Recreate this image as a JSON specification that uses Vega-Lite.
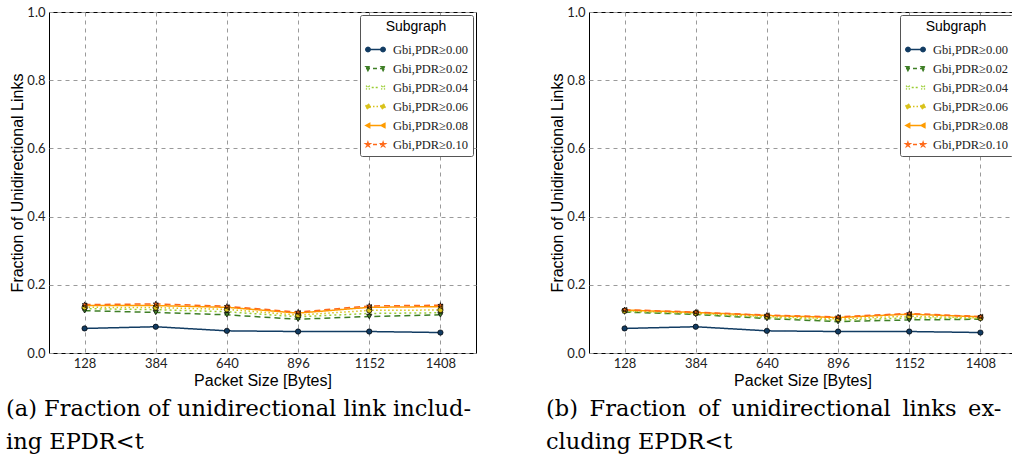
{
  "$schema": "https://vega.github.io/schema/vega-lite/v6.json",
  "autosize": {"type": "pad"},
  "padding": {"left": 5, "top": 5, "right": 0, "bottom": 5},
  "background": "white",
  "datasets": {
    "incl": [
      {"size": 128, "subgraph": "Gbi,PDR≥0.00", "fraction": 0.072},
      {"size": 384, "subgraph": "Gbi,PDR≥0.00", "fraction": 0.077},
      {"size": 640, "subgraph": "Gbi,PDR≥0.00", "fraction": 0.065},
      {"size": 896, "subgraph": "Gbi,PDR≥0.00", "fraction": 0.063},
      {"size": 1152, "subgraph": "Gbi,PDR≥0.00", "fraction": 0.063},
      {"size": 1408, "subgraph": "Gbi,PDR≥0.00", "fraction": 0.060},
      {"size": 128, "subgraph": "Gbi,PDR≥0.02", "fraction": 0.124},
      {"size": 384, "subgraph": "Gbi,PDR≥0.02", "fraction": 0.119},
      {"size": 640, "subgraph": "Gbi,PDR≥0.02", "fraction": 0.112},
      {"size": 896, "subgraph": "Gbi,PDR≥0.02", "fraction": 0.099},
      {"size": 1152, "subgraph": "Gbi,PDR≥0.02", "fraction": 0.107},
      {"size": 1408, "subgraph": "Gbi,PDR≥0.02", "fraction": 0.112},
      {"size": 128, "subgraph": "Gbi,PDR≥0.04", "fraction": 0.130},
      {"size": 384, "subgraph": "Gbi,PDR≥0.04", "fraction": 0.127},
      {"size": 640, "subgraph": "Gbi,PDR≥0.04", "fraction": 0.121},
      {"size": 896, "subgraph": "Gbi,PDR≥0.04", "fraction": 0.106},
      {"size": 1152, "subgraph": "Gbi,PDR≥0.04", "fraction": 0.116},
      {"size": 1408, "subgraph": "Gbi,PDR≥0.04", "fraction": 0.118},
      {"size": 128, "subgraph": "Gbi,PDR≥0.06", "fraction": 0.134},
      {"size": 384, "subgraph": "Gbi,PDR≥0.06", "fraction": 0.133},
      {"size": 640, "subgraph": "Gbi,PDR≥0.06", "fraction": 0.128},
      {"size": 896, "subgraph": "Gbi,PDR≥0.06", "fraction": 0.111},
      {"size": 1152, "subgraph": "Gbi,PDR≥0.06", "fraction": 0.125},
      {"size": 1408, "subgraph": "Gbi,PDR≥0.06", "fraction": 0.126},
      {"size": 128, "subgraph": "Gbi,PDR≥0.08", "fraction": 0.139},
      {"size": 384, "subgraph": "Gbi,PDR≥0.08", "fraction": 0.139},
      {"size": 640, "subgraph": "Gbi,PDR≥0.08", "fraction": 0.134},
      {"size": 896, "subgraph": "Gbi,PDR≥0.08", "fraction": 0.117},
      {"size": 1152, "subgraph": "Gbi,PDR≥0.08", "fraction": 0.134},
      {"size": 1408, "subgraph": "Gbi,PDR≥0.08", "fraction": 0.136},
      {"size": 128, "subgraph": "Gbi,PDR≥0.10", "fraction": 0.142},
      {"size": 384, "subgraph": "Gbi,PDR≥0.10", "fraction": 0.144},
      {"size": 640, "subgraph": "Gbi,PDR≥0.10", "fraction": 0.137},
      {"size": 896, "subgraph": "Gbi,PDR≥0.10", "fraction": 0.120},
      {"size": 1152, "subgraph": "Gbi,PDR≥0.10", "fraction": 0.138},
      {"size": 1408, "subgraph": "Gbi,PDR≥0.10", "fraction": 0.140}
    ],
    "excl": [
      {"size": 128, "subgraph": "Gbi,PDR≥0.00", "fraction": 0.072},
      {"size": 384, "subgraph": "Gbi,PDR≥0.00", "fraction": 0.077},
      {"size": 640, "subgraph": "Gbi,PDR≥0.00", "fraction": 0.065},
      {"size": 896, "subgraph": "Gbi,PDR≥0.00", "fraction": 0.063},
      {"size": 1152, "subgraph": "Gbi,PDR≥0.00", "fraction": 0.063},
      {"size": 1408, "subgraph": "Gbi,PDR≥0.00", "fraction": 0.060},
      {"size": 128, "subgraph": "Gbi,PDR≥0.02", "fraction": 0.120},
      {"size": 384, "subgraph": "Gbi,PDR≥0.02", "fraction": 0.113},
      {"size": 640, "subgraph": "Gbi,PDR≥0.02", "fraction": 0.101},
      {"size": 896, "subgraph": "Gbi,PDR≥0.02", "fraction": 0.092},
      {"size": 1152, "subgraph": "Gbi,PDR≥0.02", "fraction": 0.097},
      {"size": 1408, "subgraph": "Gbi,PDR≥0.02", "fraction": 0.099},
      {"size": 128, "subgraph": "Gbi,PDR≥0.04", "fraction": 0.122},
      {"size": 384, "subgraph": "Gbi,PDR≥0.04", "fraction": 0.115},
      {"size": 640, "subgraph": "Gbi,PDR≥0.04", "fraction": 0.104},
      {"size": 896, "subgraph": "Gbi,PDR≥0.04", "fraction": 0.096},
      {"size": 1152, "subgraph": "Gbi,PDR≥0.04", "fraction": 0.103},
      {"size": 1408, "subgraph": "Gbi,PDR≥0.04", "fraction": 0.101},
      {"size": 128, "subgraph": "Gbi,PDR≥0.06", "fraction": 0.124},
      {"size": 384, "subgraph": "Gbi,PDR≥0.06", "fraction": 0.117},
      {"size": 640, "subgraph": "Gbi,PDR≥0.06", "fraction": 0.107},
      {"size": 896, "subgraph": "Gbi,PDR≥0.06", "fraction": 0.100},
      {"size": 1152, "subgraph": "Gbi,PDR≥0.06", "fraction": 0.108},
      {"size": 1408, "subgraph": "Gbi,PDR≥0.06", "fraction": 0.103},
      {"size": 128, "subgraph": "Gbi,PDR≥0.08", "fraction": 0.126},
      {"size": 384, "subgraph": "Gbi,PDR≥0.08", "fraction": 0.119},
      {"size": 640, "subgraph": "Gbi,PDR≥0.08", "fraction": 0.110},
      {"size": 896, "subgraph": "Gbi,PDR≥0.08", "fraction": 0.104},
      {"size": 1152, "subgraph": "Gbi,PDR≥0.08", "fraction": 0.114},
      {"size": 1408, "subgraph": "Gbi,PDR≥0.08", "fraction": 0.106},
      {"size": 128, "subgraph": "Gbi,PDR≥0.10", "fraction": 0.127},
      {"size": 384, "subgraph": "Gbi,PDR≥0.10", "fraction": 0.120},
      {"size": 640, "subgraph": "Gbi,PDR≥0.10", "fraction": 0.111},
      {"size": 896, "subgraph": "Gbi,PDR≥0.10", "fraction": 0.106},
      {"size": 1152, "subgraph": "Gbi,PDR≥0.10", "fraction": 0.116},
      {"size": 1408, "subgraph": "Gbi,PDR≥0.10", "fraction": 0.107}
    ]
  },
  "spacing": 113,
  "bounds": "flush",
  "hconcat": [
    {
      "width": 427,
      "height": 341,
      "data": {"name": "incl"},
      "title": {
        "text": ["(a) Fraction of unidirectional link includ-", "ing EPDR<t"],
        "orient": "bottom", "anchor": "start", "frame": "group", "align": "left",
        "dx": -43, "offset": 10
      },
      "encoding": {
        "x": {"field": "size", "type": "quantitative", "scale": {"domain": [0, 1536], "nice": false},
              "axis": {"values": [128, 384, 640, 896, 1152, 1408], "format": "d", "title": "Packet Size [Bytes]"}},
        "y": {"field": "fraction", "type": "quantitative", "scale": {"domain": [0, 1], "nice": false},
              "axis": {"values": [0, 0.2, 0.4, 0.6, 0.8, 1.0], "format": ".1f", "title": "Fraction of Unidirectional Links"}},
        "color": {"field": "subgraph", "type": "nominal", "title": "Subgraph",
                  "scale": {"range": ["#123c63", "#3f7f26", "#9acd32", "#d9c21a", "#ff9c00", "#ff6a1a"]},
                  "legend": {
                    "encode": {
                      "symbols": {
                        "update": {
                          "shape": {"signal": "['M-1,0L1,0M-0.55,0A0.24,0.24 0 1,1 -1.03,0A0.24,0.24 0 1,1 -0.55,0ZM1.03,0A0.24,0.24 0 1,1 0.55,0A0.24,0.24 0 1,1 1.03,0Z', 'M-1,0L1,0M-1.04,-0.2L-0.56,-0.2L-0.8,0.24ZM0.56,-0.2L1.04,-0.2L0.8,0.24Z', 'M-0.4,0L0.4,0M-1,-0.2L-0.6,0.2M-0.6,-0.2L-1,0.2M0.6,-0.2L1,0.2M1,-0.2L0.6,0.2', 'M-1,0L1,0M-0.55,0A0.24,0.24 0 1,1 -1.03,0A0.24,0.24 0 1,1 -0.55,0ZM1.03,0A0.24,0.24 0 1,1 0.55,0A0.24,0.24 0 1,1 1.03,0Z', 'M-1,0L1,0M-1.04,0L-0.6,-0.24L-0.6,0.24ZM0.56,0L1.0,-0.24L1.0,0.24Z', 'M-1,0L1,0M-0.8,-0.26L-0.742,-0.08L-0.553,-0.08L-0.706,0.03L-0.647,0.21L-0.8,0.1L-0.953,0.21L-0.894,0.03L-1.047,-0.08L-0.858,-0.08ZM0.8,-0.26L0.858,-0.08L1.047,-0.08L0.894,0.03L0.953,0.21L0.8,0.1L0.647,0.21L0.706,0.03L0.553,-0.08L0.742,-0.08Z'][indexof(['Gbi,PDR≥0.00','Gbi,PDR≥0.02','Gbi,PDR≥0.04','Gbi,PDR≥0.06','Gbi,PDR≥0.08','Gbi,PDR≥0.10'], datum.value)]"},
                          "stroke": {"signal": "['#123c63','#3f7f26','#9acd32','#e0cf40','#ff9c00','#ff6a1a'][indexof(['Gbi,PDR≥0.00','Gbi,PDR≥0.02','Gbi,PDR≥0.04','Gbi,PDR≥0.06','Gbi,PDR≥0.08','Gbi,PDR≥0.10'], datum.value)]"},
                          "fill": {"signal": "['#123c63','#3f7f26','#9acd32','#c9b010','#222','#222'][indexof(['Gbi,PDR≥0.00','Gbi,PDR≥0.02','Gbi,PDR≥0.04','Gbi,PDR≥0.06','Gbi,PDR≥0.08','Gbi,PDR≥0.10'], datum.value)]"},
                          "strokeDash": {"signal": "[[1,0],[4,3],[2,2],[1.5,2],[1,0],[4,3]][indexof(['Gbi,PDR≥0.00','Gbi,PDR≥0.02','Gbi,PDR≥0.04','Gbi,PDR≥0.06','Gbi,PDR≥0.08','Gbi,PDR≥0.10'], datum.value)]"},
                          "strokeWidth": {"value": 1.3},
                          "opacity": {"value": 1}
                        }
                      }
                    }
                  }}
      },
      "layer": [
        {"mark": {"type": "line", "strokeWidth": 1.5},
         "encoding": {"strokeDash": {"field": "subgraph", "type": "nominal", "legend": null,
           "scale": {"range": [[1, 0], [6, 4], [2, 3], [1.5, 2.5], [1, 0], [6, 4]]}}}},
        {"mark": {"type": "point", "filled": true, "size": 28, "stroke": "black", "strokeWidth": 0.7, "opacity": 1},
         "encoding": {"shape": {"field": "subgraph", "type": "nominal", "legend": null,
           "scale": {"range": ["circle", "triangle-down", "M-0.7,-0.7L0.7,0.7M0.7,-0.7L-0.7,0.7", "circle", "triangle-left",
             "M0,-1L0.2245,-0.309L0.951,-0.309L0.363,0.118L0.588,0.809L0,0.382L-0.588,0.809L-0.363,0.118L-0.951,-0.309L-0.2245,-0.309Z"]}}}}
      ]
    },
    {
      "width": 427,
      "height": 341,
      "data": {"name": "excl"},
      "title": {
        "text": ["(b)\u2009 Fraction\u2009 of\u2009 unidirectional\u2009 links\u2009 ex-", "cluding EPDR<t"],
        "orient": "bottom", "anchor": "start", "frame": "group", "align": "left",
        "dx": -43, "offset": 10
      },
      "encoding": {
        "x": {"field": "size", "type": "quantitative", "scale": {"domain": [0, 1536], "nice": false},
              "axis": {"values": [128, 384, 640, 896, 1152, 1408], "format": "d", "title": "Packet Size [Bytes]"}},
        "y": {"field": "fraction", "type": "quantitative", "scale": {"domain": [0, 1], "nice": false},
              "axis": {"values": [0, 0.2, 0.4, 0.6, 0.8, 1.0], "format": ".1f", "title": "Fraction of Unidirectional Links"}},
        "color": {"field": "subgraph", "type": "nominal", "title": "Subgraph",
                  "scale": {"range": ["#123c63", "#3f7f26", "#9acd32", "#d9c21a", "#ff9c00", "#ff6a1a"]},
                  "legend": {
                    "encode": {
                      "symbols": {
                        "update": {
                          "shape": {"signal": "['M-1,0L1,0M-0.55,0A0.24,0.24 0 1,1 -1.03,0A0.24,0.24 0 1,1 -0.55,0ZM1.03,0A0.24,0.24 0 1,1 0.55,0A0.24,0.24 0 1,1 1.03,0Z', 'M-1,0L1,0M-1.04,-0.2L-0.56,-0.2L-0.8,0.24ZM0.56,-0.2L1.04,-0.2L0.8,0.24Z', 'M-0.4,0L0.4,0M-1,-0.2L-0.6,0.2M-0.6,-0.2L-1,0.2M0.6,-0.2L1,0.2M1,-0.2L0.6,0.2', 'M-1,0L1,0M-0.55,0A0.24,0.24 0 1,1 -1.03,0A0.24,0.24 0 1,1 -0.55,0ZM1.03,0A0.24,0.24 0 1,1 0.55,0A0.24,0.24 0 1,1 1.03,0Z', 'M-1,0L1,0M-1.04,0L-0.6,-0.24L-0.6,0.24ZM0.56,0L1.0,-0.24L1.0,0.24Z', 'M-1,0L1,0M-0.8,-0.26L-0.742,-0.08L-0.553,-0.08L-0.706,0.03L-0.647,0.21L-0.8,0.1L-0.953,0.21L-0.894,0.03L-1.047,-0.08L-0.858,-0.08ZM0.8,-0.26L0.858,-0.08L1.047,-0.08L0.894,0.03L0.953,0.21L0.8,0.1L0.647,0.21L0.706,0.03L0.553,-0.08L0.742,-0.08Z'][indexof(['Gbi,PDR≥0.00','Gbi,PDR≥0.02','Gbi,PDR≥0.04','Gbi,PDR≥0.06','Gbi,PDR≥0.08','Gbi,PDR≥0.10'], datum.value)]"},
                          "stroke": {"signal": "['#123c63','#3f7f26','#9acd32','#e0cf40','#ff9c00','#ff6a1a'][indexof(['Gbi,PDR≥0.00','Gbi,PDR≥0.02','Gbi,PDR≥0.04','Gbi,PDR≥0.06','Gbi,PDR≥0.08','Gbi,PDR≥0.10'], datum.value)]"},
                          "fill": {"signal": "['#123c63','#3f7f26','#9acd32','#c9b010','#222','#222'][indexof(['Gbi,PDR≥0.00','Gbi,PDR≥0.02','Gbi,PDR≥0.04','Gbi,PDR≥0.06','Gbi,PDR≥0.08','Gbi,PDR≥0.10'], datum.value)]"},
                          "strokeDash": {"signal": "[[1,0],[4,3],[2,2],[1.5,2],[1,0],[4,3]][indexof(['Gbi,PDR≥0.00','Gbi,PDR≥0.02','Gbi,PDR≥0.04','Gbi,PDR≥0.06','Gbi,PDR≥0.08','Gbi,PDR≥0.10'], datum.value)]"},
                          "strokeWidth": {"value": 1.3},
                          "opacity": {"value": 1}
                        }
                      }
                    }
                  }}
      },
      "layer": [
        {"mark": {"type": "line", "strokeWidth": 1.5},
         "encoding": {"strokeDash": {"field": "subgraph", "type": "nominal", "legend": null,
           "scale": {"range": [[1, 0], [6, 4], [2, 3], [1.5, 2.5], [1, 0], [6, 4]]}}}},
        {"mark": {"type": "point", "filled": true, "size": 28, "stroke": "black", "strokeWidth": 0.7, "opacity": 1},
         "encoding": {"shape": {"field": "subgraph", "type": "nominal", "legend": null,
           "scale": {"range": ["circle", "triangle-down", "M-0.7,-0.7L0.7,0.7M0.7,-0.7L-0.7,0.7", "circle", "triangle-left",
             "M0,-1L0.2245,-0.309L0.951,-0.309L0.363,0.118L0.588,0.809L0,0.382L-0.588,0.809L-0.363,0.118L-0.951,-0.309L-0.2245,-0.309Z"]}}}}
      ]
    }
  ],
  "resolve": {
    "scale": {"color": "independent", "shape": "independent", "strokeDash": "independent"},
    "legend": {"color": "independent"}
  },
  "config": {
    "view": {"stroke": "black", "strokeWidth": 1},
    "axis": {
      "domain": false,
      "ticks": false,
      "grid": true,
      "gridColor": "#9a9a9a",
      "gridDash": [4, 4],
      "gridWidth": 1,
      "labelFont": "Lato",
      "labelFontSize": 13,
      "labelColor": "#222",
      "labelPadding": 4,
      "titleFont": "Liberation Sans",
      "titleFontSize": 16,
      "titleFontWeight": "normal",
      "titleColor": "black"
    },
    "axisX": {"titlePadding": 2},
    "axisY": {"titlePadding": 1},
    "legend": {
      "orient": "top-right",
      "offset": 3,
      "fillColor": "white",
      "strokeColor": "#555",
      "cornerRadius": 2,
      "padding": 5,
      "titleFont": "Liberation Sans",
      "titleFontSize": 14,
      "titleFontWeight": "normal",
      "titleAnchor": "middle",
      "titleColor": "black",
      "titlePadding": 5,
      "labelFont": "Liberation Serif",
      "labelFontSize": 12.5,
      "labelColor": "#222",
      "labelOffset": 7,
      "rowPadding": 2,
      "symbolSize": 361
    },
    "title": {
      "font": "DejaVu Serif",
      "fontSize": 22.5,
      "fontWeight": "normal",
      "color": "black",
      "lineHeight": 33,
      "baseline": "top"
    }
  }
}
